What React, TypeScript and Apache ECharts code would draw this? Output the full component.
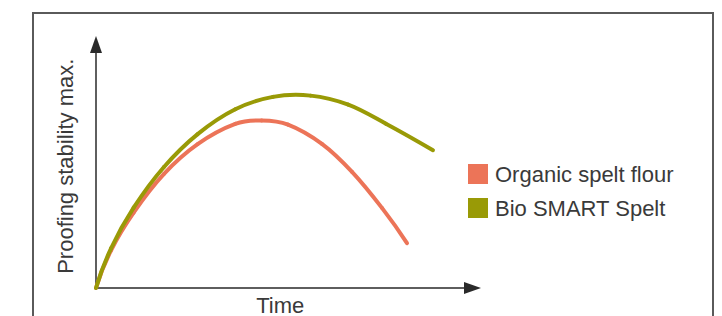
import React, { useEffect, useRef } from "react";
import * as echarts from "echarts";

const seriesNames = ["Organic spelt flour", "Bio SMART Spelt"];
const seriesColors = ["#EC7458", "#999A06"];

const organicSpelt: [number, number][] = [
  [0, 0], [4, 15.5], [10, 31.0], [18, 46.8], [27, 59.1], [37, 67.4],
  [44, 68.8], [51, 67.1], [60, 59.2], [68, 47.7], [76, 32.8], [82.6, 18.4],
];
const bioSmartSpelt: [number, number][] = [
  [0, 0], [4, 16.3], [10, 33.0], [18, 49.6], [27, 63.2], [37, 73.4],
  [47, 78.5], [57, 79.0], [67, 75.3], [77, 67.5], [89.5, 56.6],
];

const xAxisName = "Time";
const yAxisName = "Proofing stability max.";

const FONT = "Liberation Sans, Arial, sans-serif";
const TEXT_COLOR = "#3a3a3a";

// Catmull-Rom spline drawn segment by segment through the data points,
// positioned with the chart's own axes (api.coord).
function splineSeries(name: string, data: [number, number][], color: string, z: number) {
  return {
    name,
    type: "custom",
    data,
    encode: { x: 0, y: 1 },
    z,
    itemStyle: { color },
    clip: false,
    renderItem: (params: any, api: any) => {
      const i = params.dataIndex;
      const n = data.length;
      if (i >= n - 1) return { type: "group", children: [] };
      const pt = (k: number): number[] => {
        if (k < 0) {
          const a = api.coord(data[0]);
          const b = api.coord(data[1]);
          const c = api.coord(data[2]);
          return [3 * a[0] - 3 * b[0] + c[0], 3 * a[1] - 3 * b[1] + c[1]];
        }
        if (k > n - 1) {
          const a = api.coord(data[n - 1]);
          const b = api.coord(data[n - 2]);
          const c = api.coord(data[n - 3]);
          return [3 * a[0] - 3 * b[0] + c[0], 3 * a[1] - 3 * b[1] + c[1]];
        }
        return api.coord(data[k]);
      };
      const p0 = pt(i - 1);
      const p1 = pt(i);
      const p2 = pt(i + 1);
      const p3 = pt(i + 2);
      return {
        type: "bezierCurve",
        shape: {
          x1: p1[0],
          y1: p1[1],
          x2: p2[0],
          y2: p2[1],
          cpx1: p1[0] + (p2[0] - p0[0]) / 6,
          cpy1: p1[1] + (p2[1] - p0[1]) / 6,
          cpx2: p2[0] - (p3[0] - p1[0]) / 6,
          cpy2: p2[1] - (p3[1] - p1[1]) / 6,
        },
        style: { stroke: color, lineWidth: 4, fill: "none", lineCap: "round" },
        silent: true,
      };
    },
  };
}

export default function App() {
  const ref = useRef<HTMLDivElement>(null);
  useEffect(() => {
    if (!ref.current) return;
    const chart = echarts.init(ref.current, undefined, { renderer: "svg" });
    const axisLine = {
      show: true,
      symbol: ["none", "triangle"],
      symbolSize: [12, 17],
      lineStyle: { color: "#2a2a2a", width: 1.5 },
    };
    chart.setOption({
      animation: false,
      backgroundColor: "#ffffff",
      textStyle: { fontFamily: FONT },
      graphic: [
        {
          type: "rect",
          shape: { x: 33, y: 13, width: 680, height: 330 },
          style: { fill: "none", stroke: "#5a5a5a", lineWidth: 2 },
          silent: true,
        },
      ],
      grid: {
        left: 96,
        right: 249.5,
        top: 44.5,
        bottom: 28,
        containLabel: false,
        outerBoundsMode: "none",
      },
      xAxis: {
        type: "value",
        min: 0,
        max: 100,
        name: xAxisName,
        nameLocation: "middle",
        nameGap: 9,
        nameTextStyle: {
          fontSize: 22,
          lineHeight: 16,
          color: TEXT_COLOR,
          fontFamily: FONT,
          padding: [0, 8, 0, 0],
        },
        axisLine,
        axisTick: { show: false },
        axisLabel: { show: false },
        splitLine: { show: false },
      },
      yAxis: {
        type: "value",
        min: 0,
        max: 100,
        name: yAxisName,
        nameLocation: "middle",
        nameRotate: 90,
        nameGap: 20,
        nameTextStyle: { fontSize: 22, color: TEXT_COLOR, fontFamily: FONT },
        axisLine,
        axisTick: { show: false },
        axisLabel: { show: false },
        splitLine: { show: false },
      },
      legend: {
        orient: "vertical",
        left: 468,
        top: 163,
        padding: 0,
        itemWidth: 20,
        itemHeight: 20,
        itemGap: 12,
        icon: "rect",
        textStyle: { fontSize: 22, color: TEXT_COLOR, fontFamily: FONT, padding: [0, 0, 0, 2] },
        data: seriesNames,
      },
      series: [
        splineSeries(seriesNames[0], organicSpelt, seriesColors[0], 2),
        splineSeries(seriesNames[1], bioSmartSpelt, seriesColors[1], 3),
      ],
    });
    return () => chart.dispose();
  }, []);
  return (
    <div
      ref={ref}
      style={{ position: "absolute", left: 0, top: 0, width: 722, height: 316 }}
    />
  );
}
